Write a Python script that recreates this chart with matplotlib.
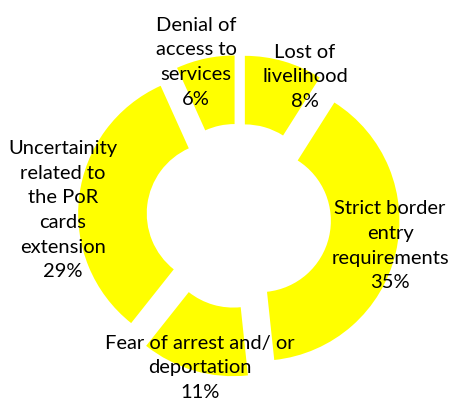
import matplotlib
matplotlib.use("Agg")
import matplotlib.pyplot as plt
import numpy as np

# values clockwise from 12 o'clock
categories = [
    "Lost of\nlivelihood",
    "Strict border\nentry\nrequirements",
    "Fear of arrest and/ or\ndeportation",
    "Uncertainity\nrelated to\nthe PoR\ncards\nextension",
    "Denial of\naccess to\nservices",
]
shares = [8, 35, 11, 29, 6]

# label placement: (angle clockwise from top in degrees, distance from centre)
label_pos = [(25.4, 1.10), (101.2, 1.10), (194.4, 1.12), (271.9, 1.26), (344.4, 1.14)]

plt.rcParams["font.family"] = ["Lato", "DejaVu Sans"]

fig = plt.figure(figsize=(4.49, 4.04), dpi=100)
ax = fig.add_axes([0, 0, 1, 1])

ax.pie(shares, radius=1, explode=[0.15] * len(shares), startangle=90,
       counterclock=False, colors=["#FFFF00"] * len(shares),
       wedgeprops=dict(width=0.49, edgecolor="none"))

for name, share, (ang, dist) in zip(categories, shares, label_pos):
    t = np.deg2rad(ang)
    ax.text(dist * np.sin(t), dist * np.cos(t), f"{name}\n{share}%",
            ha="center", va="center", fontsize=14.5, linespacing=1.55,
            color="black")

ax.set_xlim(-239 / 140, 210 / 140)
ax.set_ylim(-188 / 140, 216 / 140)
ax.set_aspect("equal")
ax.axis("off")

fig.savefig("out.png", dpi=100)
